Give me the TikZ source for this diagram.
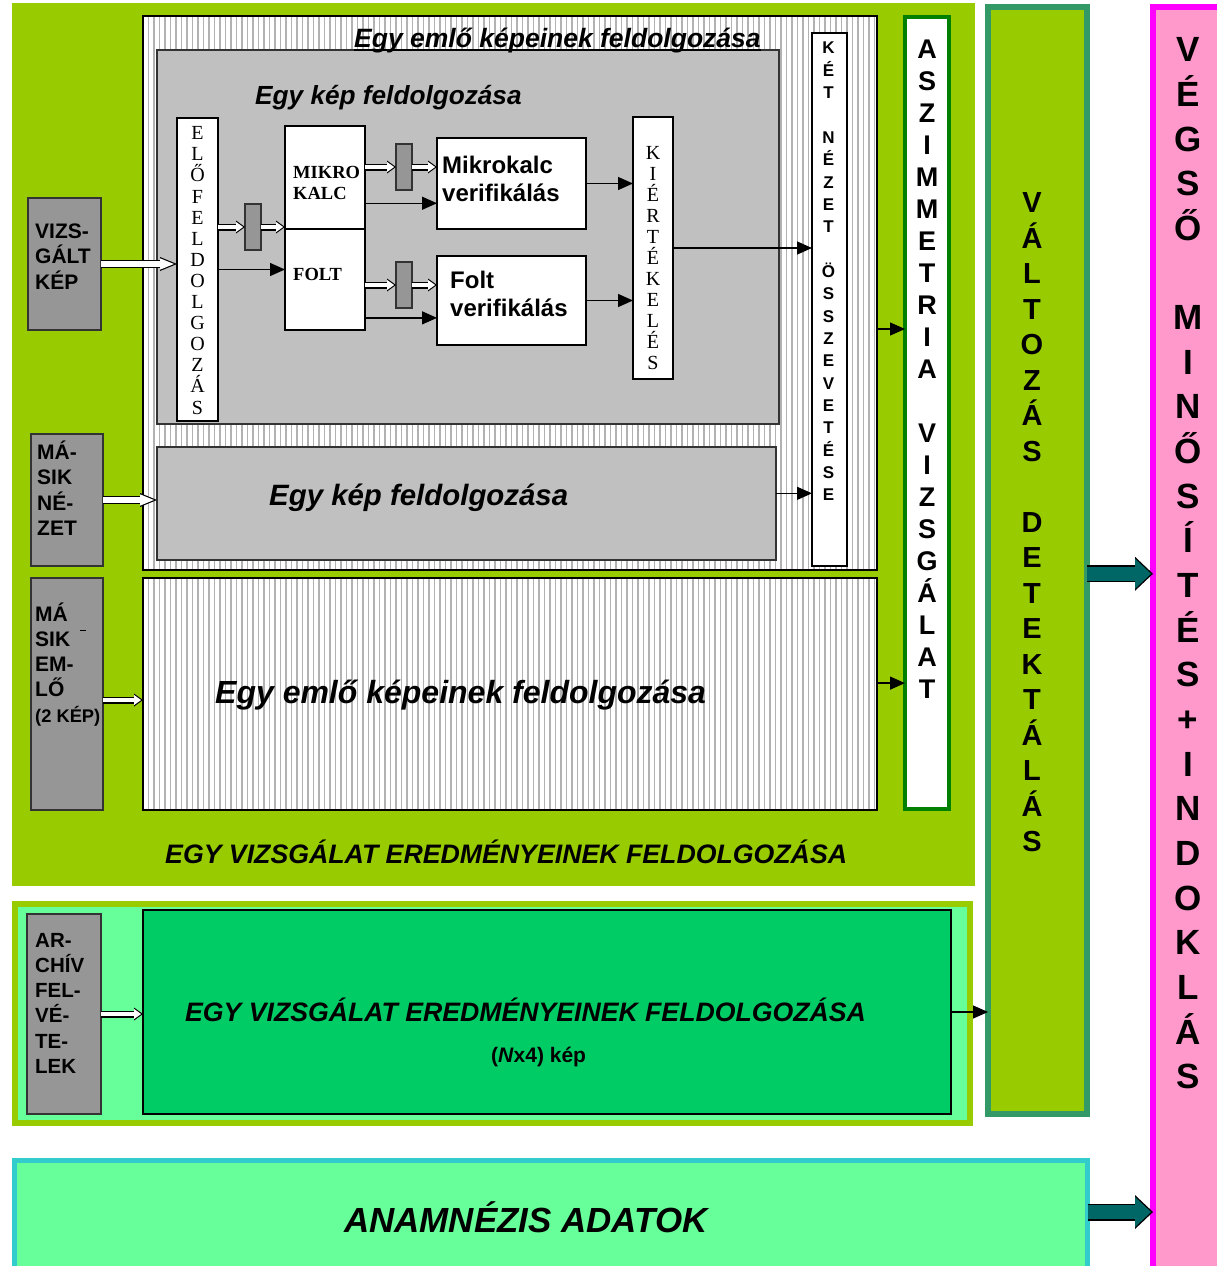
\documentclass[tikz,border=0pt]{standalone}
\usepackage{fontspec}
\setmainfont{Liberation Sans}
\newfontfamily\tnr{Liberation Serif}
\usetikzlibrary{arrows.meta,calc,patterns.meta}
\definecolor{limegr}{RGB}{153,204,0}
\definecolor{boxgray}{RGB}{150,150,150}
\definecolor{panelgray}{RGB}{192,192,192}
\definecolor{lightgr}{RGB}{102,255,153}
\definecolor{deepgr}{RGB}{0,204,102}
\definecolor{valtborder}{RGB}{51,153,102}
\definecolor{aszimgr}{RGB}{0,128,0}
\definecolor{vegpink}{RGB}{255,153,204}
\definecolor{vegmag}{RGB}{255,0,255}
\definecolor{anamcyan}{RGB}{51,204,204}
\definecolor{arrteal}{RGB}{0,102,102}
\newcommand\fsz[2]{\fontsize{#1}{#2}\selectfont}
\tikzset{
  box/.style={draw, line width=1.2pt, anchor=north west, inner sep=0pt, outer sep=0pt},
  graybox/.style={box, fill=boxgray, draw=black!80, line width=1.5pt},
  stripes/.style={box, preaction={fill=white}, pattern={Lines[angle=90,distance=5.5pt,line width=1.2pt]}, pattern color=black!30},
  lbl/.style={inner sep=0pt, anchor=base west, align=left},
  stack/.style={inner sep=0pt, anchor=north, align=center},
  flow/.style={line width=1.3pt, -{Triangle[length=15pt,width=13pt]}},
  wbig/.style={draw=black, line width=8pt, -{Triangle[length=17pt,width=14pt,line width=0pt]},
    postaction={draw=white, line width=5.6pt, shorten >=3.1pt, -{Triangle[length=13.9pt,width=11.4pt,line width=0pt]}}},
  wsmall/.style={draw=black, line width=7pt, -{Triangle[length=9pt,width=13pt,line width=0pt]},
    postaction={draw=white, line width=4.8pt, shorten >=1.9pt, -{Triangle[length=7.1pt,width=10.2pt,line width=0pt]}}},
  tealarr/.style={draw=black, line width=17pt, -{Triangle[length=18pt,width=34pt,line width=0pt]},
    postaction={draw=arrteal, line width=14.4pt, shorten >=2pt, -{Triangle[length=16pt,width=30.2pt,line width=0pt]}}}
}
\begin{document}
\begin{tikzpicture}[x=1pt,y=1pt,yscale=-1,xscale=1]
\useasboundingbox (0,0) rectangle (1216,1266);
\node[box, draw=none, fill=limegr, minimum width=963pt, minimum height=883pt] (vizsgframe) at (12,3) {};
\node[stripes, minimum width=734pt, minimum height=554pt] (emlo1) at (143,16) {};
\node[box, fill=panelgray, draw=black!80, minimum width=622pt, minimum height=374pt] (kep1) at (157,50) {};
\node[box, fill=white, minimum width=41pt, minimum height=303pt] (elofeld) at (177,118) {};
\node[box, fill=white, minimum width=80pt, minimum height=103pt] (mikro) at (285,126) {};
\node[box, fill=white, minimum width=80pt, minimum height=101pt] (folt) at (285,229) {};
\node[graybox, minimum width=16pt, minimum height=46pt] (blka) at (245,204) {};
\node[graybox, minimum width=16pt, minimum height=46pt] (blkb) at (396,144) {};
\node[graybox, minimum width=16pt, minimum height=46pt] (blkc) at (396,262) {};
\node[box, fill=white, minimum width=149pt, minimum height=91pt] (mkver) at (437,138) {};
\node[box, fill=white, minimum width=149pt, minimum height=89pt] (fver) at (437,256) {};
\node[box, fill=white, minimum width=40pt, minimum height=262pt] (kiert) at (633,117) {};
\node[box, fill=white, minimum width=35pt, minimum height=533pt] (ketnezet) at (812,33) {};
\node[box, fill=panelgray, draw=black!80, minimum width=619pt, minimum height=113pt] (kep2) at (157,447) {};
\node[stripes, minimum width=734pt, minimum height=232pt] (emlo2) at (143,578) {};
\node[box, fill=white, draw=aszimgr, line width=4pt, minimum width=44pt, minimum height=792pt] (aszim) at (905,17) {};
\node[graybox, minimum width=73pt, minimum height=132pt] (vizsgkep) at (28,198) {};
\node[graybox, minimum width=72pt, minimum height=132pt] (masiknez) at (31,434) {};
\node[graybox, minimum width=72pt, minimum height=232pt] (masikemlo) at (31,578) {};
\node[box, fill=lightgr, draw=limegr, line width=6pt, minimum width=955pt, minimum height=219pt] (archframe) at (15,904) {};
\node[graybox, minimum width=74pt, minimum height=200pt] (archiv) at (27,914) {};
\node[box, fill=deepgr, minimum width=808pt, minimum height=204pt] (vizsg2) at (143,910) {};
\node[box, fill=limegr, draw=valtborder, line width=6pt, minimum width=99pt, minimum height=1107pt] (valtozas) at (988,7) {};
\node[box, fill=vegpink, draw=vegmag, line width=6pt, minimum width=70pt, minimum height=1270pt] (vegso) at (1153,7) {};
\node[box, fill=lightgr, draw=anamcyan, line width=5pt, minimum width=1073pt, minimum height=115pt] (anamnezis) at (14.5,1160.5) {};

\node[lbl, font=\bfseries\itshape\fsz{26.5}{30}] (emlo1title) at (354,47) {Egy emlő képeinek feldolgozása};
\draw[line width=1.4pt] ($(emlo1title.base west)+(0,3)$) -- ($(emlo1title.base east)+(0,3)$);
\node[lbl, font=\bfseries\itshape\fsz{26.2}{30}] (kep1title) at (255,104) {Egy kép feldolgozása};
\node[lbl, font=\bfseries\itshape\fsz{29.4}{33}] (kep2title) at (269,505) {Egy kép feldolgozása};
\node[lbl, font=\bfseries\itshape\fsz{32}{36}] (emlo2title) at (215,703) {Egy emlő képeinek feldolgozása};
\node[lbl, font=\bfseries\itshape\fsz{26.7}{30}] (vizsgtitle) at (165,863) {EGY VIZSGÁLAT EREDMÉNYEINEK FELDOLGOZÁSA};
\node[lbl, font=\bfseries\itshape\fsz{26.65}{30}] (vizsg2title) at (185,1021) {EGY VIZSGÁLAT EREDMÉNYEINEK FELDOLGOZÁSA};
\node[lbl, font=\bfseries\fsz{21}{24}] (vizsg2sub) at (491,1062) {(\textit{N}x4) kép};
\node[lbl, font=\bfseries\itshape\fsz{34.9}{40}] (anamtxt) at (344,1232) {ANAMNÉZIS ADATOK};

\node[lbl, font=\bfseries\fsz{21}{25.5}] (vizsgkeptxt) at (35,289.3) {VIZS-\\GÁLT\\KÉP};
\node[lbl, font=\bfseries\fsz{21}{25.5}] (masiknaztxt) at (37,535.8) {MÁ-\\SIK\\NÉ-\\ZET};
\node[lbl, font=\bfseries\fsz{21}{25.3}] (masikemlotxt) at (35,722.2) {MÁ\\SIK\hspace{10pt}\rule[15pt]{6pt}{1.3pt}\\EM-\\LŐ\\{\fsz{18.3}{22}(2 KÉP)}};
\node[lbl, font=\bfseries\fsz{20.5}{25.3}] (archivtxt) at (35,1073.5) {AR-\\CHÍV\\FEL-\\VÉ-\\TE-\\LEK};
\node[lbl, font=\tnr\bfseries\fsz{18.5}{21.5}] (mikrotxt) at (293,199.5) {MIKRO\\KALC};
\node[lbl, font=\tnr\bfseries\fsz{18.5}{21.5}] (folttxt) at (293,280) {FOLT};
\node[lbl, font=\bfseries\fsz{24}{28.4}] (mkvertxt) at (442,201.7) {Mikrokalc\\verifikálás};
\node[lbl, font=\bfseries\fsz{24}{28.4}] (fvertxt) at (450,316.7) {Folt\\verifikálás};

\node[stack, font=\tnr\fsz{20}{21.1}] (elofeldtxt) at (197.5,126.4) {E\\L\\Ő\\F\\E\\L\\D\\O\\L\\G\\O\\Z\\Á\\S};
\node[stack, font=\tnr\fsz{20}{21}] (kierttxt) at (653,146.4) {K\\I\\É\\R\\T\\É\\K\\E\\L\\É\\S};
\node[stack, font=\bfseries\fsz{17}{22.35}] (ketnezettxt) at (828.5,42) {K\\É\\T\\[22.35pt]N\\É\\Z\\E\\T\\[22.35pt]Ö\\S\\S\\Z\\E\\V\\E\\T\\É\\S\\E};
\node[stack, font=\bfseries\fsz{27}{32}] (aszimtxt) at (927,39.3) {A\\S\\Z\\I\\M\\M\\E\\T\\R\\I\\A\\[32pt]V\\I\\Z\\S\\G\\Á\\L\\A\\T};
\node[stack, font=\bfseries\fsz{29}{35.5}] (valtozastxt) at (1032,192.6) {V\\Á\\L\\T\\O\\Z\\Á\\S\\[35.5pt]D\\E\\T\\E\\K\\T\\Á\\L\\Á\\S};
\node[stack, font=\bfseries\fsz{35}{44.65}] (vegsotxt) at (1188,37.5) {V\\É\\G\\S\\Ő\\[44.65pt]M\\I\\N\\Ő\\S\\Í\\T\\É\\S\\+\\I\\N\\D\\O\\K\\L\\Á\\S};

\coordinate (mkout) at ($(mikro.south east)!.25!(mikro.north east)$);
\coordinate (foltout) at ($(folt.south east)!.12!(folt.north east)$);
\coordinate (kep2out) at ($(kep2.south east)!.59!(kep2.north east)$);
\coordinate (emlo1out) at ($(emlo1.south east)!.435!(emlo1.north east)$);
\coordinate (emlo2out) at ($(emlo2.south east)!.547!(emlo2.north east)$);
\coordinate (masikemloout) at ($(masikemlo.south east)!.474!(masikemlo.north east)$);
\coordinate (valtout) at ($(valtozas.south east)!.488!(valtozas.north east)$);
\coordinate (anamout) at ($(anamnezis.north east)!.448!(anamnezis.south east)$);

\draw[wbig] (vizsgkep.east) -- (vizsgkep.east -| elofeld.west);
\draw[wbig] (masiknez.east) -- (masiknez.east -| kep2.west);
\draw[wsmall] (masikemloout) -- (masikemloout -| emlo2.west);
\draw[wsmall] (archiv.east) -- (archiv.east -| vizsg2.west);
\draw[wsmall] (blka.west -| elofeld.east) -- (blka.west);
\draw[wsmall] (blka.east) -- (blka.east -| mikro.west);
\draw[wsmall] (blkb.west -| mikro.east) -- (blkb.west);
\draw[wsmall] (blkb.east) -- (blkb.east -| mkver.west);
\draw[wsmall] (blkc.west -| folt.east) -- (blkc.west);
\draw[wsmall] (blkc.east) -- (blkc.east -| fver.west);
\draw[flow] (elofeld.east) -- (elofeld.east -| folt.west);
\draw[flow] (mkout) -- (mkout -| mkver.west);
\draw[flow] (foltout) -- (foltout -| fver.west);
\draw[flow] (mkver.east) -- (mkver.east -| kiert.west);
\draw[flow] (fver.east) -- (fver.east -| kiert.west);
\draw[flow] (kiert.east) -- (kiert.east -| ketnezet.west);
\draw[flow] (kep2out) -- (kep2out -| ketnezet.west);
\draw[flow] (emlo1out) -- (emlo1out -| aszim.west);
\draw[flow] (emlo2out) -- (emlo2out -| aszim.west);
\draw[flow] (vizsg2.east) -- (vizsg2.east -| valtozas.west);
\draw[tealarr] (valtout) -- (valtout -| vegso.west);
\draw[tealarr] (anamout) -- (anamout -| vegso.west);
\end{tikzpicture}
\end{document}
